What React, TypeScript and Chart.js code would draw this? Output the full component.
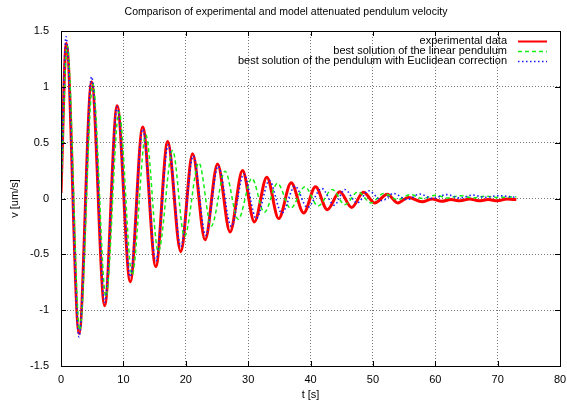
import React, { useEffect, useRef } from "react";
import { Chart, registerables } from "chart.js";

Chart.register(...registerables);

const TITLE = "Comparison of experimental and model attenuated pendulum velocity";
const X_TITLE = "t [s]";
const Y_TITLE = "v [um/s]";
const X_TICKS = [0, 10, 20, 30, 40, 50, 60, 70, 80];
const Y_TICKS = [-1.5, -1, -0.5, 0, 0.5, 1, 1.5];
const SERIES_NAMES = [
  "experimental data",
  "best solution of the linear pendulum",
  "best solution of the pendulum with Euclidean correction",
];

const expT = [0, 0.85, 2.9, 4.9, 7.0, 9.0, 11.1, 13.1, 15.2, 17.1, 19.2, 21.1, 23.1, 25.1, 27.1, 29.1, 31.0, 33.0, 34.9, 36.9, 38.9, 40.8, 42.7, 44.7, 46.6, 48.5, 50.3, 52.3, 54.0, 55.7, 57.9, 59.5, 61.0, 62.5, 64.0, 65.5, 67.0, 68.5, 70.0, 71.5, 73.0];
const expV = [0.05, 1.39, -1.21, 1.045, -0.96, 0.83, -0.745, 0.64, -0.61, 0.51, -0.476, 0.4, -0.37, 0.31, -0.3, 0.25, -0.21, 0.19, -0.18, 0.14, -0.13, 0.105, -0.1, 0.06, -0.08, 0.055, -0.04, 0.037, -0.04, 0.01, -0.03, -0.005, -0.025, -0.01, -0.02, -0.005, -0.02, -0.01, -0.02, -0.005, -0.01];

// linear pendulum model
const linT = [0, 1.0, 3.0, 5.1, 7.2, 9.3, 11.4, 13.6, 15.6, 17.9, 19.8, 22.1, 24.1, 26.3, 28.4, 30.6, 32.6, 34.7, 36.8, 39.1, 41.2, 43.5, 45.5, 47.6, 49.7, 51.7, 54.0, 56.0, 58.0, 60.0, 62.0, 64.0, 66.0, 68.0, 70.0, 73.0];
const linV = [0.05, 1.37, -1.18, 1.03, -0.88, 0.78, -0.685, 0.57, -0.476, 0.43, -0.34, 0.32, -0.246, 0.245, -0.186, 0.18, -0.125, 0.136, -0.088, 0.105, -0.067, 0.08, -0.055, 0.06, -0.04, 0.045, -0.01, 0.035, 0.0, 0.03, 0.005, 0.025, 0.005, 0.02, 0.01, 0.015];

// pendulum with Euclidean correction
const eucT = [0, 0.8, 2.9, 4.9, 7.0, 9.0, 11.1, 13.1, 15.2, 17.2, 19.2, 21.2, 23.2, 25.2, 27.3, 29.3, 31.3, 33.4, 35.4, 37.5, 39.5, 41.8, 43.8, 45.5, 47.5, 49.3, 51.5, 53.3, 55.5, 57.5, 59.5, 61.8, 64.0, 66.0, 68.0, 70.0, 73.0];
const eucV = [0.05, 1.45, -1.24, 1.09, -0.93, 0.82, -0.7, 0.62, -0.56, 0.48, -0.43, 0.38, -0.33, 0.29, -0.25, 0.22, -0.18, 0.16, -0.13, 0.11, -0.08, 0.09, -0.06, 0.08, -0.04, 0.07, -0.02, 0.045, -0.01, 0.04, 0.0, 0.035, 0.005, 0.03, 0.01, 0.025, 0.01];

const FONT = "'Liberation Sans', Arial, Helvetica, sans-serif";
const COLORS = ["#ff0000", "#11ee11", "#1a1aff"];
const DASHES: number[][] = [[], [4, 3], [1.5, 2.5]];
const WIDTHS = [3, 1.5, 1.6];

const toPts = (t: number[], v: number[]) => t.map((x, i) => ({ x, y: v[i] }));

const framePlugin = {
  id: "gnuframe",
  afterDraw(chart: any) {
    const { ctx, chartArea: a, scales } = chart;
    ctx.save();
    ctx.strokeStyle = "#000";
    ctx.lineWidth = 1;
    ctx.setLineDash([]);
    ctx.strokeRect(Math.round(a.left) + 0.5, Math.round(a.top) + 0.5, Math.round(a.right - a.left), Math.round(a.bottom - a.top));
    const tl = 5;
    ctx.beginPath();
    X_TICKS.forEach((v) => {
      const x = Math.round(scales.x.getPixelForValue(v)) + 0.5;
      ctx.moveTo(x, a.bottom);
      ctx.lineTo(x, a.bottom - tl);
      ctx.moveTo(x, a.top);
      ctx.lineTo(x, a.top + tl);
    });
    Y_TICKS.forEach((v) => {
      const y = Math.round(scales.y.getPixelForValue(v)) + 0.5;
      ctx.moveTo(a.left, y);
      ctx.lineTo(a.left + tl, y);
      ctx.moveTo(a.right, y);
      ctx.lineTo(a.right - tl, y);
    });
    ctx.stroke();
    ctx.fillStyle = "#000";
    ctx.font = `10.5px ${FONT}`;
    ctx.textAlign = "center";
    ctx.textBaseline = "middle";
    ctx.fillText(TITLE, 286, 12);
    ctx.font = `11px ${FONT}`;
    const textRight = a.right - 53;
    const s0 = a.right - 42;
    const s1 = a.right - 13;
    SERIES_NAMES.forEach((name, i) => {
      const y = a.top + 9.5 + i * 10;
      ctx.fillStyle = "#000";
      ctx.textAlign = "right";
      ctx.fillText(name, textRight, y);
      ctx.strokeStyle = COLORS[i];
      ctx.lineWidth = i === 0 ? 2 : 1.5;
      ctx.setLineDash(DASHES[i]);
      ctx.beginPath();
      ctx.moveTo(s0, Math.round(y) + 0.5);
      ctx.lineTo(s1, Math.round(y) + 0.5);
      ctx.stroke();
    });
    ctx.restore();
  },
};

export default function App() {
  const ref = useRef<HTMLCanvasElement>(null);
  useEffect(() => {
    if (!ref.current) return;
    const series = [toPts(expT, expV), toPts(linT, linV), toPts(eucT, eucV)];
    const chart = new Chart(ref.current, {
      type: "line",
      data: {
        datasets: series.map((d, i) => ({
          label: SERIES_NAMES[i],
          data: d,
          borderColor: COLORS[i],
          borderWidth: WIDTHS[i],
          borderDash: DASHES[i],
          pointRadius: 0,
          fill: false,
          cubicInterpolationMode: "monotone" as const,
          order: 3 - i,
        })),
      },
      options: {
        animation: false,
        responsive: false,
        events: [],
        layout: { padding: { top: 31, right: 7, bottom: 0, left: 0 } },
        plugins: { legend: { display: false }, title: { display: false }, tooltip: { enabled: false } },
        scales: {
          x: {
            type: "linear",
            min: 0,
            max: 80,
            afterBuildTicks: (s: any) => { s.ticks = X_TICKS.map((value) => ({ value })); },
            afterFit: (s: any) => { s.height = 39; s.paddingRight = 0; s.paddingLeft = 0; },
            ticks: { padding: 7, color: "#000", font: { family: FONT, size: 11 }, callback: (v: any) => String(v), maxRotation: 0 },
            grid: { color: "#777", drawTicks: false, lineWidth: 1 },
            border: { display: false, dash: [1, 2] },
            title: { display: true, text: X_TITLE, color: "#000", font: { family: FONT, size: 11 }, padding: { top: 0, bottom: 3 } },
          },
          y: {
            type: "linear",
            min: -1.5,
            max: 1.5,
            afterBuildTicks: (s: any) => { s.ticks = Y_TICKS.map((value) => ({ value })); },
            afterFit: (s: any) => { s.width = 61; s.paddingTop = 0; s.paddingBottom = 0; },
            ticks: { padding: 12, color: "#000", font: { family: FONT, size: 11 }, callback: (v: any) => String(v) },
            grid: { color: "#777", drawTicks: false, lineWidth: 1 },
            border: { display: false, dash: [1, 2] },
            title: { display: true, text: Y_TITLE, color: "#000", font: { family: FONT, size: 11 }, padding: { top: 8, bottom: 0 } },
          },
        },
      },
      plugins: [framePlugin],
    });
    return () => chart.destroy();
  }, []);
  return (
    <div style={{ position: "fixed", left: 0, top: 0, width: 567, height: 405, background: "#fff" }}>
      <canvas ref={ref} width={567} height={405} />
    </div>
  );
}
